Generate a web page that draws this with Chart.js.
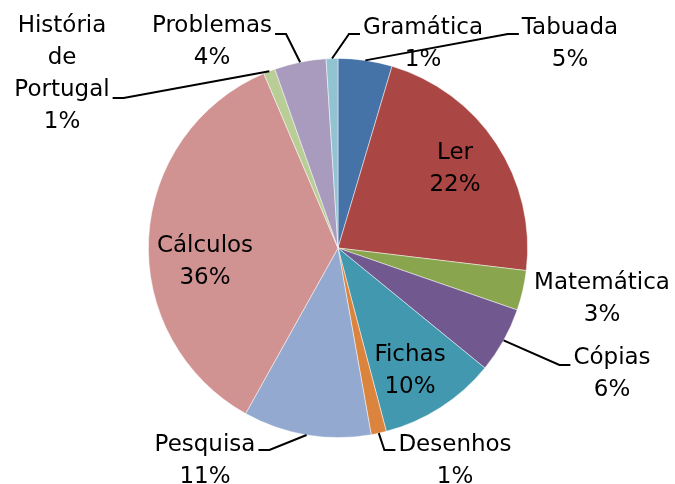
<!DOCTYPE html>
<html lang="pt">
<head>
    <meta charset="UTF-8">
    <title>Tarefas</title>
    <script src="https://cdn.jsdelivr.net/npm/chart.js"></script>
    <style>
        html, body { margin: 0; padding: 0; background: #fff; }
        #box { width: 675px; height: 484px; }
    </style>
</head>
<body>
    <div id="box"><canvas id="wykres"></canvas></div>

    <script>
        // categorias e valores (percentagens)
        const categorias = ['Tabuada', 'Ler', 'Matemática', 'Cópias', 'Fichas', 'Desenhos',
                            'Pesquisa', 'Cálculos', 'História de Portugal', 'Problemas', 'Gramática'];
        const valores = [4.6, 22.3, 3.4, 5.6, 10.0, 1.3, 10.9, 35.5, 1.0, 4.4, 1.0];
        const cores = ['#4572A7', '#AA4643', '#89A54E', '#71588F', '#4198AF', '#DB843D',
                       '#93A9CF', '#D19392', '#B9CD96', '#A99BBD', '#92C3D1'];

        // posição dos rótulos (relativa ao centro da tarte), linha de chamada
        const rotulos = {
            'Tabuada':              { ox: 232,  oy: -220, lados: 'left',  linha: 0, ly: 6 },
            'Ler':                  { ox: 117,  oy: -95 },
            'Matemática':           { ox: 264,  oy: 35 },
            'Cópias':               { ox: 274,  oy: 110,  lados: 'left',  linha: 0, ly: 7 },
            'Fichas':               { ox: 72,   oy: 107 },
            'Desenhos':             { ox: 117,  oy: 197,  lados: 'left',  linha: 0, ly: 5 },
            'Pesquisa':             { ox: -133, oy: 197,  lados: 'right', linha: 0, ly: 5 },
            'Cálculos':             { ox: -133, oy: -2 },
            'História de Portugal': { ox: -276, oy: -222, lados: 'right', linha: 2, ly: 8, texto: ['História', 'de', 'Portugal'] },
            'Problemas':            { ox: -126, oy: -222, lados: 'right', linha: 0, ly: 8 },
            'Gramática':            { ox: 85,   oy: -220, lados: 'left',  linha: 0, ly: 6 }
        };

        const fonte = '23px "DejaVu Sans"';
        const passo = 32;

        const pluginRotulos = {
            id: 'rotulos',
            afterDatasetsDraw(chart) {
                const ctx = chart.ctx;
                const arcs = chart.getDatasetMeta(0).data;
                ctx.save();
                ctx.font = fonte;
                ctx.fillStyle = '#000';
                ctx.strokeStyle = '#000';
                ctx.lineWidth = 2;
                ctx.textAlign = 'center';
                ctx.textBaseline = 'middle';
                arcs.forEach((arc, i) => {
                    const p = arc.getProps(['x', 'y', 'startAngle', 'endAngle', 'outerRadius'], true);
                    const cfg = rotulos[categorias[i]];
                    const linhas = (cfg.texto || [categorias[i]]).concat([Math.round(valores[i]) + '%']);
                    const tx = p.x + cfg.ox;
                    const ty = p.y + cfg.oy;

                    if (cfg.lados) {
                        const meio = (p.startAngle + p.endAngle) / 2;
                        const ex = p.x + Math.cos(meio) * p.outerRadius;
                        const ey = p.y + Math.sin(meio) * p.outerRadius;
                        const w = ctx.measureText(linhas[cfg.linha]).width;
                        const ly = ty + cfg.linha * passo + cfg.ly;
                        const s = cfg.lados === 'left' ? -1 : 1;
                        const x1 = tx + s * (w / 2 + 3);
                        const x2 = x1 + s * 11;
                        ctx.beginPath();
                        ctx.moveTo(x1, ly);
                        ctx.lineTo(x2, ly);
                        ctx.lineTo(ex, ey);
                        ctx.stroke();
                    }

                    linhas.forEach((t, k) => ctx.fillText(t, tx, ty + k * passo));
                });
                ctx.restore();
            }
        };

        var wykres = new Chart(document.getElementById('wykres').getContext('2d'), {
            type: 'pie',
            data: {
                labels: categorias,
                datasets: [{
                    data: valores,
                    backgroundColor: cores,
                    borderColor: 'rgba(255,255,255,0.6)',
                    borderWidth: 0.8
                }]
            },
            options: {
                responsive: true,
                maintainAspectRatio: false,
                animation: false,
                layout: { padding: { left: 148, right: 147, top: 58, bottom: 46 } },
                plugins: {
                    legend: { display: false },
                    tooltip: { enabled: false }
                }
            },
            plugins: [pluginRotulos]
        });
    </script>
</body>
</html>
